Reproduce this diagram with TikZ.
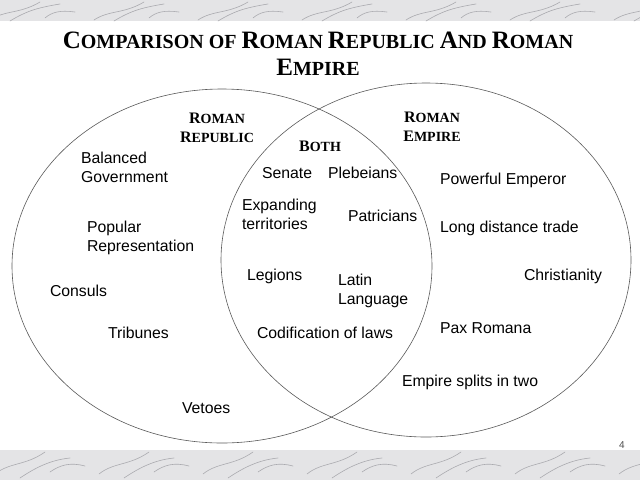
\documentclass[tikz,border=0pt]{standalone}
\usepackage{fontspec}
\setmainfont{Liberation Sans}
\newfontfamily\titlefont{Liberation Serif}
\newcommand\tbig[1]{{\fontsize{25}{25}\selectfont #1}}
\newcommand\lbig[1]{{\fontsize{16}{16}\selectfont #1}}
\definecolor{marblebg}{RGB}{228,228,230}
\definecolor{marblevein}{RGB}{170,170,175}
\begin{document}
\begin{tikzpicture}[x=1pt,y=-1pt,
  every node/.style={inner sep=0pt,outer sep=0pt},
  item/.style={anchor=base west,font=\fontsize{15.8}{19}\selectfont,align=left},
  setlabel/.style={anchor=base,font=\titlefont\bfseries\fontsize{14}{19}\selectfont,align=center},
  titletext/.style={anchor=base,font=\titlefont\bfseries\fontsize{20}{27}\selectfont,align=center},
  vennset/.style={draw=black!65,line width=0.6pt},
  vein/.style={draw=marblevein,line width=0.6pt,line cap=round}]
\useasboundingbox (0,0) rectangle (640,480);
% marble strips
\fill[marblebg] (0,0) rectangle (640,21);
\fill[marblebg] (0,450) rectangle (640,480);
\foreach \i in {0,...,6}{
  \begin{scope}[shift={(\i*104-10,0)}]
    \draw[vein] (0,20) .. controls (15,10) and (30,14) .. (50,2);
    \draw[vein] (20,21) .. controls (35,12) and (45,8) .. (70,4);
    \draw[vein] (55,18) .. controls (62,12) and (70,10) .. (85,12);
    \draw[vein] (5,474) .. controls (20,462) and (35,466) .. (55,452);
    \draw[vein] (30,478) .. controls (45,468) and (60,460) .. (80,458);
    \draw[vein] (60,472) .. controls (70,465) and (80,462) .. (95,466);
  \end{scope}
}
% title
\node[titletext] (title1) at (318,48) {\tbig{C}OMPARISON OF \tbig{R}OMAN \tbig{R}EPUBLIC \tbig{A}ND \tbig{R}OMAN};
\node[titletext] (title2) at (318,75) {\tbig{E}MPIRE};
% venn sets
\draw[vennset] (222,266) ellipse [x radius=210pt, y radius=177pt];
\draw[vennset] (426,260) ellipse [x radius=205pt, y radius=177pt];
% set labels (base = last line)
\node[setlabel] (rep) at (217,142) {\lbig{R}OMAN\\\lbig{R}EPUBLIC};
\node[setlabel] (both) at (320,151) {\lbig{B}OTH};
\node[setlabel] (emp) at (432,141) {\lbig{R}OMAN\\\lbig{E}MPIRE};
% republic items
\node[item] (balanced) at (81,182) {Balanced\\Government};
\node[item] (popular) at (87,251) {Popular\\Representation};
\node[item] (consuls) at (50,296) {Consuls};
\node[item] (tribunes) at (108,338) {Tribunes};
\node[item] (vetoes) at (182,413) {Vetoes};
% both items
\node[item] (senate) at (262,178) {Senate};
\node[item] (plebeians) at (328,178) {Plebeians};
\node[item] (expanding) at (242,229) {Expanding\\territories};
\node[item] (patricians) at (348,221) {Patricians};
\node[item] (legions) at (247,280) {Legions};
\node[item] (latin) at (338,304) {Latin\\Language};
\node[item] (codification) at (257,338) {Codification of laws};
% empire items
\node[item] (emperor) at (440,184) {Powerful Emperor};
\node[item] (trade) at (440,232) {Long distance trade};
\node[item] (christianity) at (524,280) {Christianity};
\node[item] (pax) at (440,333) {Pax Romana};
\node[item] (splits) at (402,386) {Empire splits in two};
% page number
\node[anchor=base, font=\fontsize{10}{12}\selectfont, text=black!70] (pagenum) at (622,448) {4};
\end{tikzpicture}
\end{document}
